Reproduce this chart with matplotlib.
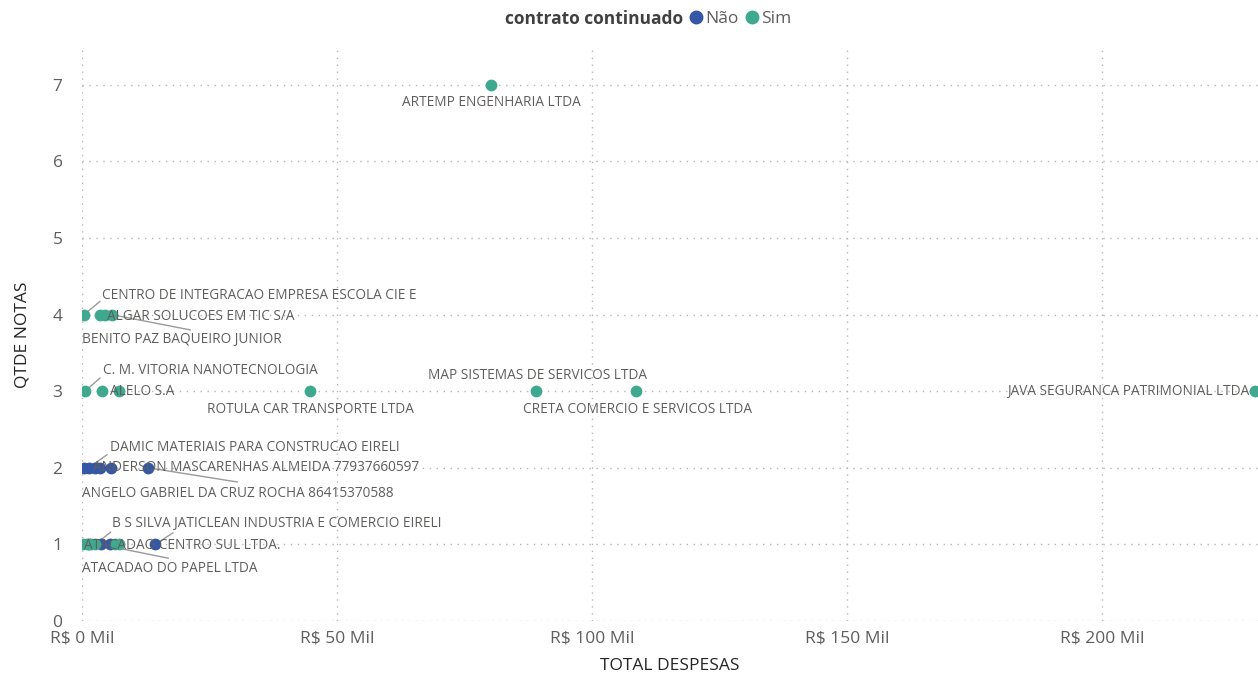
import matplotlib.pyplot as plt
from matplotlib.ticker import FuncFormatter
from matplotlib.lines import Line2D

plt.rcParams['font.family'] = ['Open Sans', 'DejaVu Sans']

# dados (despesas em R$ Mil)
sim_x = [80.2, 0.4, 3.6, 4.6, 5.8, 0.6, 4.0, 7.2, 44.7, 89.0, 108.6, 230.0, 0.2, 1.0, 1.8, 2.6, 6.5, 7.3]
sim_y = [7, 4, 4, 4, 4, 3, 3, 3, 3, 3, 3, 3, 1, 1, 1, 1, 1, 1]
nao_x = [0.3, 1.3, 2.6, 3.6, 5.6, 13.0, 1.4, 3.8, 5.4, 14.4]
nao_y = [2, 2, 2, 2, 2, 2, 1, 1, 1, 1]

c_nao = '#3457A6'
c_sim = '#3FA98F'
c_txt = '#605E5C'

# rotulos: texto, ponto de ancoragem, posicao do texto, alinhamento, ponta da linha guia
rotulos = [
    ('ARTEMP ENGENHARIA LTDA', (80.2, 7), (80.2, 6.765), 'center', None),
    ('CENTRO DE INTEGRACAO EMPRESA ESCOLA CIE E', (0.4, 4), (3.9, 4.245), 'left', (3.5, 4.17)),
    ('ALGAR SOLUCOES EM TIC S/A', (4.6, 4), (4.9, 3.98), 'left', None),
    ('BENITO PAZ BAQUEIRO JUNIOR', (5.8, 4), (0.0, 3.67), 'left', (21.2, 3.80)),
    ('C. M. VITORIA NANOTECNOLOGIA', (0.6, 3), (4.1, 3.265), 'left', (3.5, 3.17)),
    ('ALELO S.A', (7.2, 3), (5.5, 2.99), 'left', None),
    ('ROTULA CAR TRANSPORTE LTDA', (44.7, 3), (44.7, 2.755), 'center', None),
    ('MAP SISTEMAS DE SERVICOS LTDA', (89.0, 3), (89.2, 3.21), 'center', None),
    ('CRETA COMERCIO E SERVICOS LTDA', (108.6, 3), (108.8, 2.755), 'center', None),
    ('JAVA SEGURANCA PATRIMONIAL LTDA', (230.0, 3), (228.8, 2.99), 'right', None),
    ('DAMIC MATERIAIS PARA CONSTRUCAO EIRELI', (1.3, 2), (5.5, 2.26), 'left', (4.9, 2.17)),
    ('ANDERSON MASCARENHAS ALMEIDA 77937660597', (2.6, 2), (2.2, 2.0), 'left', None),
    ('ANGELO GABRIEL DA CRUZ ROCHA 86415370588', (13.0, 2), (0.0, 1.67), 'left', (30.4, 1.815)),
    ('B S SILVA JATICLEAN INDUSTRIA E COMERCIO EIRELI', (2.6, 1), (5.9, 1.267), 'left', (5.6, 1.16)),
    ('ATACADAO CENTRO SUL LTDA.', (14.4, 1), (0.4, 0.99), 'left', (17.8, 1.15)),
    ('ATACADAO DO PAPEL LTDA', (3.5, 1), (0.0, 0.68), 'left', (16.9, 0.82)),
]

fig = plt.figure(figsize=(12.58, 6.75), dpi=100)
ax = fig.add_axes([82/1258, 1 - 621/675, 1 - 82/1258, (621 - 48)/675])

ax.scatter(nao_x, nao_y, s=72, color=c_nao, zorder=3, linewidths=0)
ax.scatter(sim_x, sim_y, s=72, color=c_sim, zorder=3, linewidths=0)

for txt, pt, pos, ha, guia in rotulos:
    if guia is not None:
        ax.plot([pt[0], guia[0]], [pt[1], guia[1]], color='#9A9A9A', lw=1, zorder=2)
    ax.text(pos[0], pos[1], txt, ha=ha, va='center', fontsize=9.8, color=c_txt, zorder=4)

ax.set_xlim(0, 230.5)
ax.set_ylim(0, 7.48)
ax.set_xticks([0, 50, 100, 150, 200])
ax.set_yticks(range(0, 8))
ax.xaxis.set_major_formatter(FuncFormatter(lambda v, p: f'R$ {int(v)} Mil'))
ax.tick_params(length=0, labelsize=12.5, labelcolor=c_txt)
ax.tick_params(axis='x', pad=7)
ax.tick_params(axis='y', pad=14)
for s in ax.spines.values():
    s.set_visible(False)
ax.grid(True, color='#B5B5B5', linestyle=(0, (1, 4)), linewidth=1)
ax.set_axisbelow(True)

ax.set_xlabel('TOTAL DESPESAS', fontsize=12.5, color='#252423', labelpad=8)
ax.set_ylabel('QTDE NOTAS', fontsize=12.5, color='#252423', labelpad=16)

# legenda
fig.text(683/1258, 1 - 19/675, 'contrato continuado', ha='right', va='center',
         fontsize=12.5, fontweight='bold', color='#404040')
handles = [Line2D([], [], marker='o', ls='', color=c_nao, markersize=9),
           Line2D([], [], marker='o', ls='', color=c_sim, markersize=9)]
fig.legend(handles, ['Não', 'Sim'], loc='center left', bbox_to_anchor=(691/1258, 1 - 19/675),
           ncol=2, frameon=False, handlelength=0.6, handletextpad=0.2, columnspacing=0.5,
           fontsize=12.5, labelcolor=c_txt, borderpad=0, borderaxespad=0)

fig.savefig('out.png', dpi=100)
